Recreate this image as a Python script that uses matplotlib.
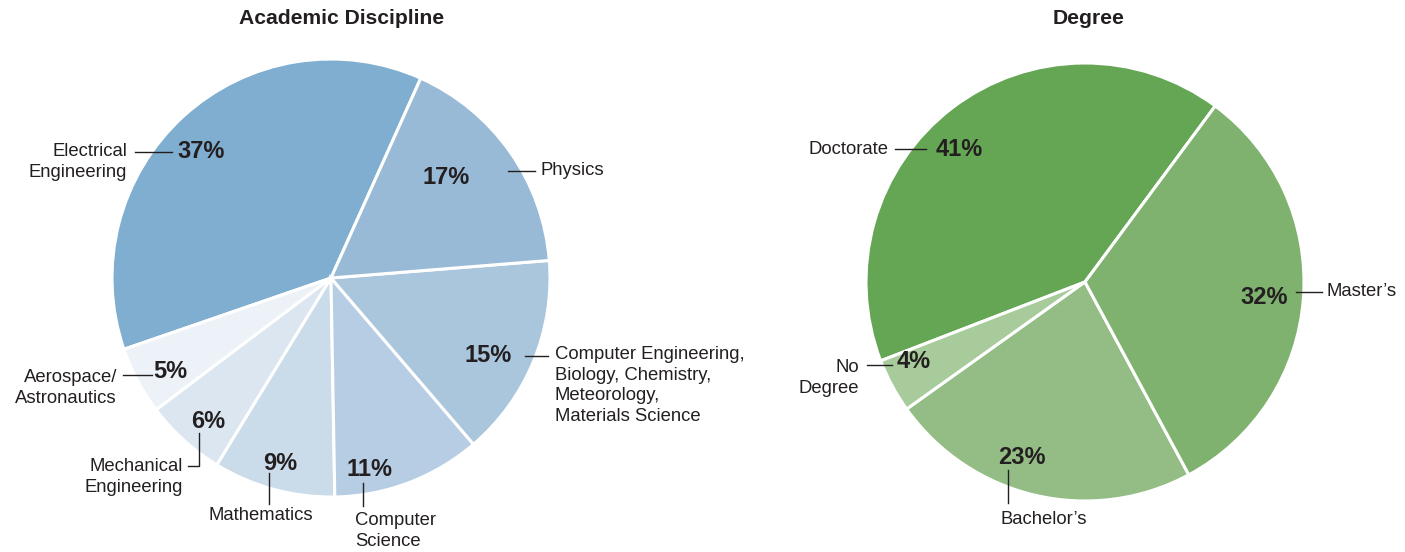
import matplotlib.pyplot as plt
from matplotlib.lines import Line2D

plt.rcParams['font.family'] = ['Liberation Sans', 'DejaVu Sans']

# data
disc_labels = ["Electrical Engineering", "Aerospace/Astronautics", "Mechanical Engineering",
               "Mathematics", "Computer Science", "Computer Engineering etc.", "Physics"]
disc_values = [37, 5, 6, 9, 11, 15, 17]
disc_colors = ["#80aed0", "#ecf2f8", "#dce6f1", "#cadbea", "#b6cde3", "#aac6dd", "#98bad7"]

deg_labels = ["Doctorate", "No Degree", "Bachelor's", "Master's"]
deg_values = [41, 4, 23, 32]
deg_colors = ["#65a654", "#a8cb9b", "#94bd85", "#7fb26f"]

W, H = 1405, 552
TXT = "#231f20"
fig = plt.figure(figsize=(W / 100, H / 100), dpi=100)


def px_axes(cx, cy, r):
    return fig.add_axes([(cx - r) / W, 1 - (cy + r) / H, 2 * r / W, 2 * r / H])


def draw_pie(ax, values, colors, start):
    ax.pie(values, colors=colors, startangle=start, counterclock=True,
           wedgeprops=dict(edgecolor="white", linewidth=2.2))
    ax.set_xlim(-1, 1)
    ax.set_ylim(-1, 1)
    ax.set_aspect("equal")
    ax.axis("off")


def pct(x, y, s, ha="left"):
    fig.text(x / W, 1 - y / H, s, fontsize=17, fontweight="bold", color=TXT,
             ha=ha, va="center")


def lab(x, y, s, ha="left", va="center"):
    fig.text(x / W, 1 - y / H, s, fontsize=13.3, color=TXT, ha=ha, va=va,
             linespacing=1.28)


def seg(xs, ys):
    fig.add_artist(Line2D([x / W for x in xs], [1 - y / H for y in ys],
                          color=TXT, lw=1.0))


ax1 = px_axes(331, 278, 219)
draw_pie(ax1, disc_values, disc_colors, 65.8)
ax2 = px_axes(1085, 282, 219)
draw_pie(ax2, deg_values, deg_colors, 53.5)

fig.text(342 / W, 1 - 19 / H, "Academic Discipline", fontsize=15.2, fontweight="bold",
         color=TXT, ha="center", va="center")
fig.text(1089 / W, 1 - 19 / H, "Degree", fontsize=15.2, fontweight="bold",
         color=TXT, ha="center", va="center")

# left pie labels
pct(177, 152, "37%")
seg([135, 172], [152, 152])
lab(127, 162, "Electrical\nEngineering", ha="right")

pct(423, 177, "17%")
seg([508, 535], [171, 171])
lab(541, 171, "Physics")

pct(465, 356, "15%")
seg([525, 548], [356, 356])
lab(555, 346, "Computer Engineering,\nBiology, Chemistry,\nMeteorology,\nMaterials Science", va="top")

pct(153, 371, "5%")
seg([123, 152], [375, 375])
lab(117, 388, "Aerospace/\nAstronautics", ha="right")

pct(191, 422, "6%")
seg([199, 199, 188], [433, 466, 466])
lab(183, 477, "Mechanical\nEngineering", ha="right")

pct(263, 464, "9%")
seg([269, 269], [473, 504])
lab(261, 516, "Mathematics", ha="center")

pct(347, 469, "11%")
seg([363, 363], [483, 506])
lab(355, 531, "Computer\nScience")

# right pie labels
pct(936, 149, "41%")
seg([895, 926], [149, 149])
lab(888, 149, "Doctorate", ha="right")

pct(1240, 297, "32%")
seg([1296, 1322], [292, 292])
lab(1327, 292, "Master\u2019s")

pct(897, 361, "4%")
seg([867, 892], [365, 365])
lab(859, 378, "No\nDegree", ha="right")

pct(998, 457, "23%")
seg([1008, 1008], [470, 503])
lab(1000, 519, "Bachelor\u2019s")

fig.savefig("out.png", dpi=100)
